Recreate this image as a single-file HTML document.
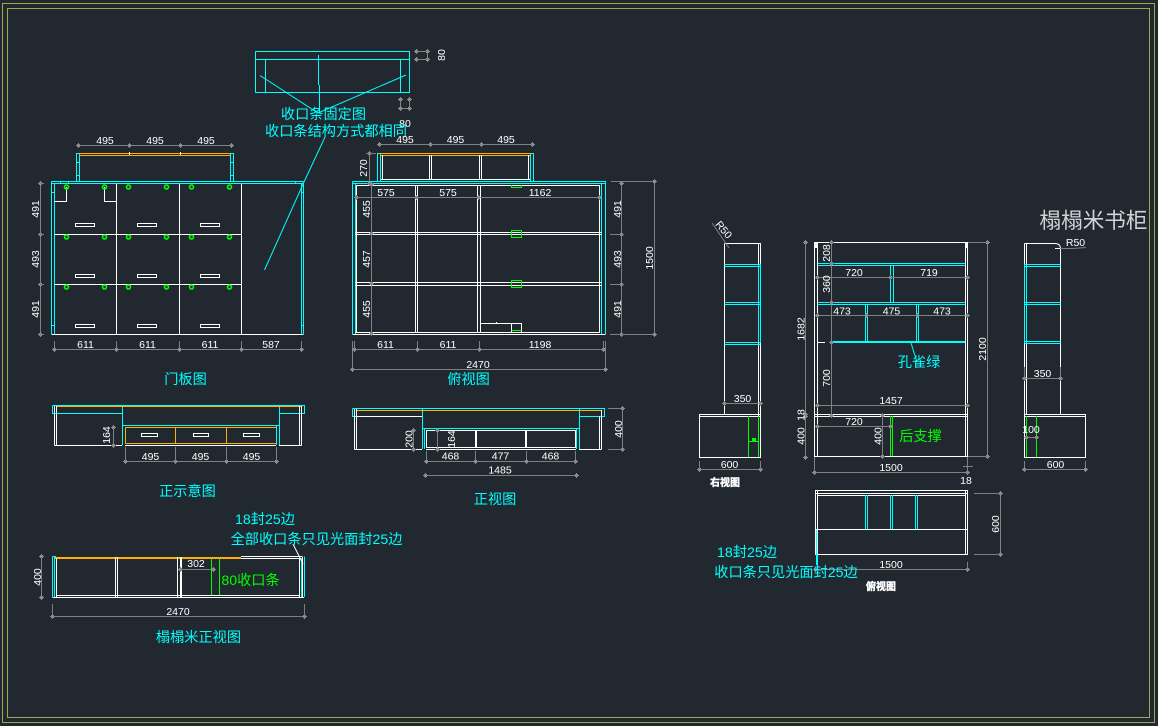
<!DOCTYPE html>
<html><head><meta charset="utf-8"><title>榻榻米书柜</title>
<style>
html,body{margin:0;padding:0;background:#212830;width:1158px;height:726px;overflow:hidden}
svg{display:block}
path,polyline,line{fill:none;stroke-width:1}
.w{stroke:#fff}.c{stroke:#00ffff}.o{stroke:#ffb000}.g{stroke:#00ff00}.f{stroke:#a3a650;fill:none}
.x{stroke:#808080}
.d{stroke:#808080;marker-start:url(#t);marker-mid:url(#t);marker-end:url(#t)}
.l{stroke:#00ffff}
.or{fill:#ffb000}
text{font-family:"Liberation Sans","Noto Sans CJK SC",sans-serif;text-anchor:middle}
.n text,text.n{font-size:10.5px;fill:#fff}
.k text,text.k{font-size:14.2px;fill:#00ffff}
.b{font-size:10px;font-weight:bold;fill:#fff;stroke:#fff;stroke-width:.4}
.hg{fill:none;stroke:#00ff00;stroke-width:1.6}
</style></head><body>
<svg xmlns="http://www.w3.org/2000/svg" width="1158" height="726" viewBox="0 0 1158 726">
<defs>
<marker id="t" markerUnits="userSpaceOnUse" markerWidth="7" markerHeight="7" refX="3.5" refY="3.5" overflow="visible"><rect x="2" y="2" width="3" height="3" fill="#8a8a8a"/><path d="M1 3.5H6M3.5 1V6" style="stroke:#8a8a8a"/></marker>
</defs>
<rect class="f" x="2.5" y="3.5" width="1152" height="719"/>
<rect class="f" x="7.5" y="8.5" width="1142" height="709"/>

<!-- 收口条固定图 -->
<path class="c" d="M255.5 51.5H409.5V92.5H255.5ZM255.5 59.5H409.5M265.5 59.5V92.5M400.5 59.5V92.5M318.5 55V85M319.5 85V113"/>
<path class="l" d="M260 75.5L318 113L406 75M325 137L304 182L264.5 270"/>
<polyline class="d" points="416.5,51.5 427.5,51.5 427.5,59.5 416.5,59.5"/>
<polyline class="d" points="400.5,99.5 400.5,108.5 409.5,108.5 409.5,99.5"/>
<g class="n"><text transform="translate(445 55) rotate(-90)">80</text><text x="405" y="127">80</text></g>
<g class="k"><text x="323.5" y="119">收口条固定图</text><text x="336" y="136">收口条结构方式都相同</text></g>

<!-- 门板图 -->
<path class="c" d="M51.5 181.5V334M303.5 181.5V334M51.5 181.5H303.5M51.5 183.5H303.5M54.5 184V334M301.5 184V334M76.5 153V182M79.5 153V182M230.5 153V182M233.5 153V182M76.5 153.5H79.5M230.5 153.5H233.5M76.5 162.5H79.5M76.5 175.5H79.5M230.5 162.5H233.5M230.5 175.5H233.5M51.5 192.5H54.5M51.5 325.5H54.5M301.5 325.5H303.5M301.5 192.5H303.5M60.5 181V184M68.5 181V184M295.5 181V184"/>
<rect class="or" x="79" y="153" width="151" height="1"/><rect class="or" x="79" y="155" width="151" height="1"/>
<path class="w" d="M51.5 334.5H303.5M116.5 184V334M179.5 184V334M241.5 184V334M54 234.5H241.5M54 284.5H241.5M54 201.5H66.5V187M104.5 187V201.5H116.5M129.5 152V155M180.5 152V155"/>
<path class="w" d="M75.5 223.5h19v3h-19zM137.5 223.5h19v3h-19zM200.5 223.5h19v3h-19zM75.5 274.5h19v3h-19zM137.5 274.5h19v3h-19zM200.5 274.5h19v3h-19zM75.5 324.5h19v3h-19zM137.5 324.5h19v3h-19zM200.5 324.5h19v3h-19z"/>
<g class="hg">
<circle cx="66.5" cy="187" r="2"/><circle cx="104.5" cy="187" r="2"/><circle cx="128.5" cy="187" r="2"/><circle cx="166.5" cy="187" r="2"/><circle cx="191.5" cy="187" r="2"/><circle cx="229.5" cy="187" r="2"/>
<circle cx="66.5" cy="237" r="2"/><circle cx="104.5" cy="237" r="2"/><circle cx="128.5" cy="237" r="2"/><circle cx="166.5" cy="237" r="2"/><circle cx="191.5" cy="237" r="2"/><circle cx="229.5" cy="237" r="2"/>
<circle cx="66.5" cy="287" r="2"/><circle cx="104.5" cy="287" r="2"/><circle cx="128.5" cy="287" r="2"/><circle cx="166.5" cy="287" r="2"/><circle cx="191.5" cy="287" r="2"/><circle cx="229.5" cy="287" r="2"/>
</g>
<polyline class="d" points="78.5,145.5 129.5,145.5 180.5,145.5 231.5,145.5"/>
<polyline class="d" points="40.5,183.5 40.5,234.5 40.5,284.5 40.5,334.5"/>
<path class="x" d="M38 183.5H44M38 234.5H44M38 284.5H44M38 334.5H44M54.5 341V349M116.5 341V349M179.5 341V349M241.5 341V349M301.5 341V349"/>
<polyline class="d" points="54.5,349.5 116.5,349.5 179.5,349.5 241.5,349.5 301.5,349.5"/>
<g class="n">
<text x="105" y="144">495</text><text x="155" y="144">495</text><text x="206" y="144">495</text>
<text x="85.5" y="348">611</text><text x="147.5" y="348">611</text><text x="210" y="348">611</text><text x="271" y="348">587</text>
<text transform="translate(39 209) rotate(-90)">491</text><text transform="translate(39 259) rotate(-90)">493</text><text transform="translate(39 309) rotate(-90)">491</text>
</g>
<text class="k" x="185.5" y="384">门板图</text>

<!-- 俯视图 -->
<path class="c" d="M352.5 181.5H605.5V334M352.5 181.5V334M352.5 183.5H605M355.5 184V334M601.5 184V334M377.5 153V182M380.5 153V182M530.5 153V182M533.5 153V182M377.5 153.5H380.5M530.5 153.5H533.5"/>
<rect class="or" x="380" y="153" width="151" height="1"/><rect class="or" x="380" y="155" width="151" height="1"/>
<path class="w" d="M356.5 185.5H600M356.5 185.5V333M599.5 185.5V333M355 232.5H602M355 234.5H602M355 282.5H602M355 285.5H602M352.5 334.5H605.5M355 332.5H600M415.5 185V333M417.5 185V333M477.5 185V333M480.5 185V333M382.5 155V179M528.5 155V179M381 179.5H530M429.5 155V179M431.5 155V179M479.5 155V179M481.5 155V179M481 323.5H521.5V333M511.5 323.5V333M496.5 322V323"/>
<path class="g" d="M511.5 185V187.5H521.5V185M511.5 230.5H521.5V237.5H511.5ZM511.5 280.5H521.5V287.5H511.5ZM511.5 330.5H521.5"/>
<polyline class="d" points="379.5,144.5 430.5,144.5 481.5,144.5 532.5,144.5"/>
<polyline class="d" points="369.5,153.5 369.5,183.5"/>
<path class="x" d="M366 153.5H376"/>
<polyline class="d" points="356.5,197.5 416.5,197.5 478.5,197.5 599.5,197.5"/>
<polyline class="d" points="371.5,184.5 371.5,233.5 371.5,283.5 371.5,333.5"/>
<polyline class="d" points="621.5,183.5 621.5,234.5 621.5,284.5 621.5,334.5"/>
<path class="x" d="M610 234.5H624M610 284.5H624M610 334.5H654M611 181.5H654M354.5 341V349M417.5 341V349M479.5 341V349M603.5 341V349M352.5 341V369M605.5 341V369"/>
<polyline class="d" points="654.5,181.5 654.5,334.5"/>
<polyline class="d" points="354.5,349.5 417.5,349.5 479.5,349.5 603.5,349.5"/>
<polyline class="d" points="352.5,369.5 605.5,369.5"/>
<g class="n">
<text x="405" y="143">495</text><text x="455.5" y="143">495</text><text x="506" y="143">495</text>
<text x="386" y="196">575</text><text x="448" y="196">575</text><text x="540" y="196">1162</text>
<text x="385.5" y="348">611</text><text x="448" y="348">611</text><text x="540" y="348">1198</text>
<text x="478" y="368">2470</text>
<text transform="translate(367 168) rotate(-90)">270</text>
<text transform="translate(370 209) rotate(-90)">455</text><text transform="translate(370 259) rotate(-90)">457</text><text transform="translate(370 309) rotate(-90)">455</text>
<text transform="translate(621 209) rotate(-90)">491</text><text transform="translate(621 259) rotate(-90)">493</text><text transform="translate(621 309) rotate(-90)">491</text>
<text transform="translate(653 258) rotate(-90)">1500</text>
</g>
<text class="k" x="468.5" y="384">俯视图</text>

<!-- 正示意图 -->
<path class="c" d="M52.5 405.5H304.5V413.5H279.5M52.5 405.5V413.5H122.5M122.5 405.5V445M279.5 405.5V445M122.5 425.5H279.5M276.5 425.5V445"/>
<rect class="or" x="56" y="406" width="246" height="1"/>
<path class="o" d="M125.5 427.5H276.5M125.5 443.5H276.5M125.5 427.5V443.5M175.5 427.5V443.5M226.5 427.5V443.5"/>
<path class="w" d="M54.5 406V445.5M56.5 406V445.5M299.5 406V445.5M301.5 406V445.5M54.5 445.5H122M279 445.5H301.5M125 445.5H276M141.5 433.5h16v3h-16zM193.5 433.5h15v3h-15zM243.5 433.5h16v3h-16z"/>
<polyline class="d" points="113.5,427.5 113.5,445.5"/>
<polyline class="d" points="125.5,461.5 175.5,461.5 226.5,461.5 276.5,461.5"/>
<path class="x" d="M125.5 447V461M175.5 447V461M226.5 447V461M276.5 447V461"/>
<g class="n"><text x="150.5" y="460">495</text><text x="200.5" y="460">495</text><text x="251.5" y="460">495</text><text transform="translate(110 435) rotate(-90)">164</text></g>
<text class="k" x="187.5" y="496">正示意图</text>

<!-- 正视图 -->
<path class="c" d="M352.5 408.5H604.5V416.5H579.5M352.5 408.5V416.5H422.5M422.5 408.5V449M579.5 408.5V449M422.5 428.5H579.5M576.5 428.5V449M424.5 428.5V449"/>
<rect class="or" x="356" y="410" width="246" height="1"/>
<path class="w" d="M354.5 409V449.5M356.5 409V449.5M599.5 416V449.5M601.5 410V449.5M354.5 449.5H422M579 449.5H601.5M426 449.5H576M426.5 430.5H575.5V447.5H426.5ZM475.5 430V448M476.5 430V448M525.5 430V448M526.5 430V448M356 416.5H422"/>
<polyline class="d" points="413.5,430.5 413.5,449.5"/>
<polyline class="d" points="437.5,430.5 437.5,449.5"/>
<polyline class="d" points="622.5,408.5 622.5,449.5"/>
<path class="x" d="M608 408.5H623M608 449.5H623M426.5 451V461M475.5 451V461M526.5 451V461M575.5 451V461"/>
<polyline class="d" points="426.5,461.5 475.5,461.5 526.5,461.5 575.5,461.5"/>
<polyline class="d" points="425.5,475.5 576.5,475.5"/>
<g class="n"><text x="450.5" y="459.5">468</text><text x="500.5" y="459.5">477</text><text x="550.5" y="459.5">468</text><text x="500" y="473.5">1485</text>
<text transform="translate(412.5 439) rotate(-90)">200</text><text transform="translate(455 439) rotate(-90)">164</text><text transform="translate(622 429) rotate(-90)">400</text></g>
<text class="k" x="495" y="504">正视图</text>

<!-- 榻榻米正视图 -->
<path class="c" d="M52.5 556.5V597M54.5 556.5V597M52.5 556.5H56M301.5 558V597M304.5 556.5V597"/>
<rect class="or" x="55" y="557" width="186" height="2"/>
<path class="w" d="M241 556.5H302.5M56.5 558.5V597M115.5 557V597M117.5 557V597M177.5 557V597M180.5 557V597M181.5 557V597M299.5 558V597M302.5 557V597M241 558.5H300M52.5 597.5H304M56 595.5H300"/>
<path class="g" d="M211.5 558V595M219.5 558V595"/>
<polyline class="d" points="180.5,569.5 213.5,569.5"/>
<polyline class="d" points="41.5,556.5 41.5,597.5"/>
<polyline class="d" points="52.5,616.5 304.5,616.5"/>
<path class="x" d="M52.5 604V616M304.5 604V616"/>
<path style="stroke:#fff" d="M293 544L303 564"/>
<g class="n"><text x="196" y="567">302</text><text x="178" y="615">2470</text><text transform="translate(41 577) rotate(-90)">400</text></g>
<text x="250.5" y="585" style="font-size:14.2px;fill:#00ff00">80收口条</text>
<g class="k"><text x="265" y="524">18封25边</text><text x="316.5" y="544">全部收口条只见光面封25边</text><text x="198.5" y="642">榻榻米正视图</text></g>

<!-- 右视图 -->
<path class="w" d="M724.5 243.5H760.5V415M724.5 243.5V415M758.5 243.5V457M699.5 414.5H760.5V457.5H699.5ZM699.5 416.5H760.5"/>
<path class="c" d="M724.5 264.5H760M724.5 266.5H760M724.5 302.5H760M724.5 304.5H760M724.5 342.5H760M724.5 344.5H760M758.5 264V343M760.5 264V343"/>
<path class="g" d="M748.5 416V457M758.5 416V457M748.5 441.5H758"/>
<rect x="752" y="438" width="4" height="3" style="fill:#00ff00"/>
<polyline class="d" points="724.5,403.5 760.5,403.5"/>
<polyline class="d" points="699.5,469.5 760.5,469.5"/>
<path class="x" d="M699.5 461V469M760.5 461V469M712 223L729 248"/>
<g class="n"><text transform="translate(721 232) rotate(50)">R50</text><text x="742.5" y="402">350</text><text x="729.5" y="468">600</text></g>
<text class="b" x="725" y="486">右视图</text>

<!-- 主视图 -->
<path class="w" d="M814.5 242.5H967.5V456.5H814.5ZM817.5 243V456M965.5 243V456M814.5 414.5H967.5M814.5 416.5H967.5M818 342.5H825"/>
<rect x="815" y="243" width="3" height="5" style="fill:#fff"/><rect x="965" y="243" width="3" height="5" style="fill:#fff"/>
<path class="c" d="M818 263.5H965M818 265.5H965M818 302.5H965M818 304.5H965M832 341.5H965M832 342.5H965M890.5 265V303M893.5 265V303M865.5 304V342M867.5 304V342M916.5 304V342M918.5 304V342"/>
<path class="l" d="M911 343L917 362"/>
<path class="g" d="M890.5 416V456M892.5 416V456"/>
<polyline class="d" points="805.5,242.5 805.5,414.5 805.5,416.5 805.5,457.5"/>
<polyline class="d" points="831.5,242.5 831.5,263.5 831.5,302.5 831.5,342.5 831.5,415.5"/>
<polyline class="d" points="817.5,277.5 890.5,277.5 967.5,277.5"/>
<polyline class="d" points="817.5,315.5 866.5,315.5 917.5,315.5 967.5,315.5"/>
<polyline class="d" points="817.5,405.5 967.5,405.5"/>
<polyline class="d" points="817.5,426.5 890.5,426.5"/>
<polyline class="d" points="882.5,415.5 882.5,456.5"/>
<polyline class="d" points="814.5,472.5 967.5,472.5"/>
<polyline class="d" points="987.5,242.5 987.5,456.5"/>
<path class="x" d="M814.5 457V472M968 242.5H988M968 456.5H988M967.5 457V474M963 466.5H973"/>
<g class="n">
<text x="854" y="276">720</text><text x="929" y="276">719</text>
<text x="842" y="314.5">473</text><text x="891.5" y="314.5">475</text><text x="942" y="314.5">473</text>
<text x="891" y="404">1457</text><text x="854" y="425">720</text><text x="891" y="471">1500</text><text x="966" y="484">18</text>
<text transform="translate(804.5 329) rotate(-90)">1682</text><text transform="translate(804.5 415) rotate(-90)">18</text><text transform="translate(804.5 436) rotate(-90)">400</text>
<text transform="translate(830 253) rotate(-90)">208</text><text transform="translate(830 284) rotate(-90)">360</text><text transform="translate(830 378) rotate(-90)">700</text>
<text transform="translate(881.5 436) rotate(-90)">400</text><text transform="translate(986 349) rotate(-90)">2100</text>
</g>
<text class="k" x="919" y="367">孔雀绿</text>
<text x="920.5" y="441" style="font-size:14.2px;fill:#00ff00">后支撑</text>

<!-- 左视图 -->
<path class="w" d="M1024.5 243.5H1055Q1060.5 243.5 1060.5 249V414M1024.5 243.5V457.5H1085.5V414.5H1024.5M1026.5 244V414M1024.5 416.5H1085.5M1055 248.5H1060"/>
<path class="c" d="M1024.5 264.5H1060.5M1024.5 266.5H1060.5M1024.5 302.5H1060.5M1024.5 304.5H1060.5M1024.5 341.5H1060.5M1024.5 343.5H1060.5M1024.5 264V343M1026.5 264V343"/>
<path class="g" d="M1026.5 416V457M1036.5 416V457"/>
<path class="x" d="M1060 248.5H1073L1086 247.5M1024.5 367V378M1060.5 367V378M1024.5 461V469M1085.5 461V469"/>
<polyline class="d" points="1024.5,378.5 1060.5,378.5"/>
<polyline class="d" points="1026.5,437.5 1036.5,437.5"/>
<polyline class="d" points="1024.5,469.5 1085.5,469.5"/>
<g class="n"><text x="1075.5" y="246">R50</text><text x="1042.5" y="377">350</text><text x="1031" y="433">100</text><text x="1055.5" y="468">600</text></g>
<text x="1093.5" y="228" style="font-size:21.6px;fill:#d0d4d6">榻榻米书柜</text>

<!-- 俯视图(右) -->
<path class="w" d="M815.5 490.5H967.5V554.5H815.5ZM817.5 491V554M965.5 491V554M815.5 493.5H967.5M817.5 495.5H965.5M815.5 529.5H967.5"/>
<path class="c" d="M865.5 495V529M867.5 495V529M890.5 495V529M892.5 495V529M915.5 495V529M917.5 495V529M816.5 530V565M817.5 555V565"/>
<polyline class="d" points="1000.5,493.5 1000.5,554.5"/>
<polyline class="d" points="815.5,569.5 967.5,569.5"/>
<path class="x" d="M974 493.5H1001M974 554.5H1001M967.5 562V570"/>
<g class="n"><text x="891" y="568">1500</text><text transform="translate(999 524) rotate(-90)">600</text></g>
<text class="b" x="881" y="590">俯视图</text>
<g class="k"><text x="747" y="557">18封25边</text><text x="786" y="577">收口条只见光面封25边</text></g>
</svg>
</body></html>
